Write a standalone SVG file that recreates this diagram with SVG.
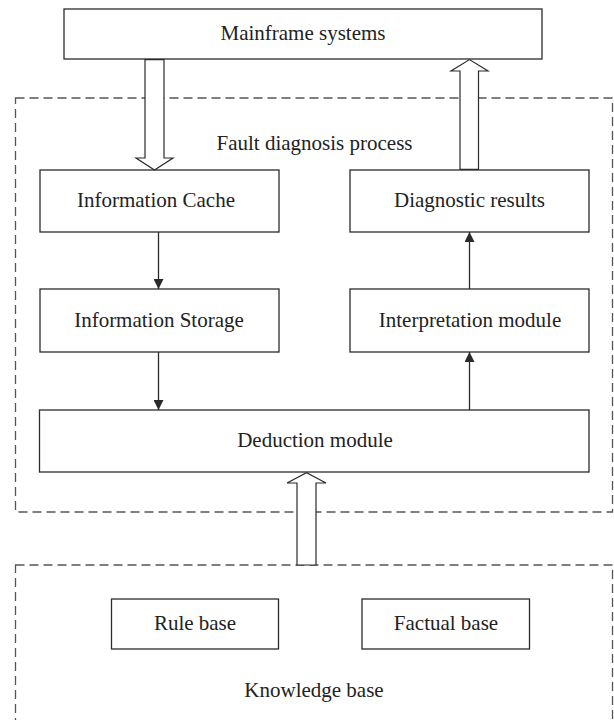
<svg xmlns="http://www.w3.org/2000/svg" width="614" height="720" viewBox="0 0 614 720">
<defs>
<style>
.box{fill:#fff;stroke:#2b2b2b;stroke-width:1.3}
.dash{fill:none;stroke:#555;stroke-width:1.3;stroke-dasharray:9,5}
.hollow{fill:#fff;stroke:#2b2b2b;stroke-width:1.2;stroke-linejoin:miter}
.line{fill:none;stroke:#2b2b2b;stroke-width:1.3}
text{font-family:"Liberation Serif","Times New Roman",serif;font-size:21px;fill:#222;text-anchor:middle}
</style>
<marker id="ah" viewBox="0 0 10 10" refX="10" refY="5" markerWidth="10" markerHeight="10" markerUnits="userSpaceOnUse" orient="auto">
<path d="M0,0 L10,5 L0,10 Z" fill="#2b2b2b"/>
</marker>
</defs>
<rect id="fault-group" class="dash" x="15.5" y="98" width="597" height="414"/>
<rect id="knowledge-group" class="dash" x="15.5" y="565" width="597" height="170"/>
<g id="mainframe"><rect class="box" x="64" y="9" width="478" height="50"/><text x="303" y="40">Mainframe systems</text></g>
<text id="fault-label" x="314.5" y="150">Fault diagnosis process</text>
<g id="cache"><rect class="box" x="40" y="170" width="239" height="62"/><text x="156" y="207">Information Cache</text></g>
<g id="diagnostic"><rect class="box" x="350" y="170" width="239" height="62"/><text x="469.5" y="207">Diagnostic results</text></g>
<g id="storage"><rect class="box" x="40" y="289" width="239" height="63"/><text x="159" y="327">Information Storage</text></g>
<g id="interpretation"><rect class="box" x="350" y="289" width="239" height="63"/><text x="470" y="327">Interpretation module</text></g>
<g id="deduction"><rect class="box" x="39.5" y="410" width="549.5" height="62"/><text x="315" y="447">Deduction module</text></g>
<g id="rule"><rect class="box" x="111.5" y="599" width="167" height="50"/><text x="195" y="630">Rule base</text></g>
<g id="factual"><rect class="box" x="362" y="599" width="167.5" height="50"/><text x="446" y="630">Factual base</text></g>
<text id="knowledge-label" x="314" y="697">Knowledge base</text>
<g id="connectors">
<polygon class="hollow" points="145,59.6 164,59.6 164,158 173,158 154.5,170 136,158 145,158"/>
<polygon class="hollow" points="460,169.4 478.5,169.4 478.5,71 488,71 469.5,59.6 451,71 460,71"/>
<polygon class="hollow" points="297,565 316,565 316,483 326,483 306.5,472.6 287,483 297,483"/>
<line class="line" x1="158.5" y1="232" x2="158.5" y2="289" marker-end="url(#ah)"/>
<line class="line" x1="158.5" y1="352" x2="158.5" y2="410" marker-end="url(#ah)"/>
<line class="line" x1="469.5" y1="410" x2="469.5" y2="352" marker-end="url(#ah)"/>
<line class="line" x1="469.5" y1="289" x2="469.5" y2="232" marker-end="url(#ah)"/>
</g>
</svg>
